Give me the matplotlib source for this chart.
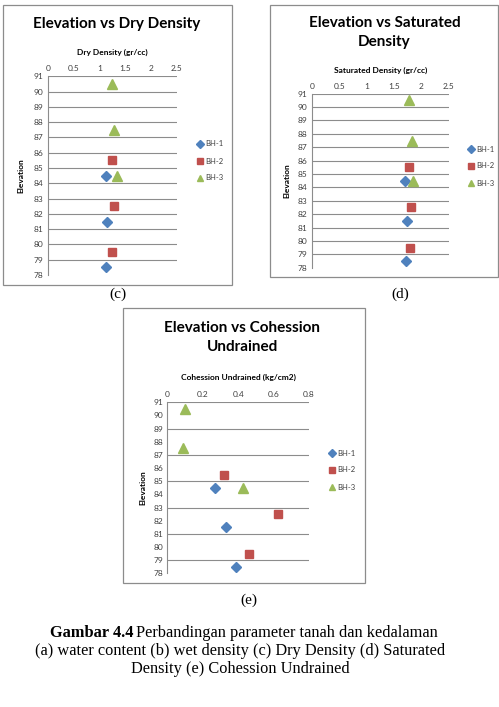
import matplotlib.pyplot as plt
from matplotlib.patches import Rectangle

W, H = 499, 707

# elevations where each borehole was sampled
elev_bh1 = [84.5, 81.5, 78.5]
elev_bh2 = [85.5, 82.5, 79.5]
elev_bh3 = [90.5, 87.5, 84.5]

# dry density (gr/cc)
dry_bh1 = [1.13, 1.14, 1.13]
dry_bh2 = [1.24, 1.29, 1.24]
dry_bh3 = [1.24, 1.28, 1.34]

# saturated density (gr/cc)
sat_bh1 = [1.70, 1.73, 1.71]
sat_bh2 = [1.78, 1.81, 1.79]
sat_bh3 = [1.78, 1.83, 1.84]

# cohesion undrained (kg/cm2)
cu_bh1 = [0.27, 0.33, 0.39]
cu_bh2 = [0.32, 0.625, 0.46]
cu_bh3 = [0.10, 0.09, 0.43]

series_names = ["BH-1", "BH-2", "BH-3"]
colores = ["#4F81BD", "#C0504D", "#9BBB59"]
marcadores = ["D", "s", "^"]
tamanos = [5, 6, 6.5]

font = "Lato"
fig = plt.figure(figsize=(W / 100, H / 100), dpi=100)


def px_axes(x0, y0, x1, y1):
    return fig.add_axes([x0 / W, 1 - y1 / H, (x1 - x0) / W, (y1 - y0) / H])


def marco(x0, y0, x1, y1):
    fig.patches.append(Rectangle((x0 / W, 1 - y1 / H), (x1 - x0) / W, (y1 - y0) / H,
                                 transform=fig.transFigure, fill=False,
                                 edgecolor="#8c8c8c", linewidth=0.9))


def texto(x, y, s, **kw):
    kw.setdefault("ha", "center")
    fig.text(x / W, 1 - y / H, s, va="center", **kw)


def grafico(caja, xmax, xstep, xticklabels, grid_step, datos, titulo, ty, xlabel, xl_y,
            ylab_x, leg_x, leg_y):
    ax = px_axes(*caja)
    for (ex, vals), c, m, ms, nombre in zip(datos, colores, marcadores, tamanos, series_names):
        ax.plot(vals, ex, linestyle="none", marker=m, color=c, markersize=ms, label=nombre)
    ax.set_xlim(0, xmax)
    ax.set_ylim(78, 91)
    ax.set_xticks([i * xstep for i in range(len(xticklabels))])
    ax.set_xticklabels(xticklabels, fontsize=6, family=font, color="#404040")
    ax.xaxis.tick_top()
    ax.set_yticks(range(78, 92))
    ax.set_yticklabels([str(v) for v in range(78, 92)], fontsize=6, family=font, color="#404040")
    ax.tick_params(length=0, pad=3)
    for y in range(79, 92, grid_step):
        ax.axhline(y, color="#8c8c8c", linewidth=0.8, zorder=0)
    for s in ["top", "right", "bottom"]:
        ax.spines[s].set_visible(False)
    ax.spines["left"].set_color("#8c8c8c")
    ax.set_facecolor("none")
    cx = (caja[0] + caja[2]) / 2
    for i, linea in enumerate(titulo):
        texto(cx + 4, ty + i * 19, linea, fontsize=11, fontweight="bold", family=font)
    texto(cx, xl_y, xlabel, fontsize=6, fontweight="bold", family=font)
    texto(ylab_x, (caja[1] + caja[3]) / 2, "Elevation", fontsize=6, fontweight="bold",
          family=font, rotation=90)
    for i, (nombre, c, m) in enumerate(zip(series_names, colores, marcadores)):
        yy = leg_y + i * 17
        fig.lines.append(plt.Line2D([leg_x / W], [1 - yy / H], marker=m, color=c,
                                    markersize=4, transform=fig.transFigure))
        fig.text((leg_x + 5) / W, 1 - yy / H, nombre, fontsize=5.5, family=font,
                 va="center", color="#404040")
    return ax


# (c) dry density
marco(3, 5, 232, 285)
grafico((47.7, 76.3, 176.7, 275), 2.5, 0.5, ["0", "0.5", "1", "1.5", "2", "2.5"], 1,
        [(elev_bh1, dry_bh1), (elev_bh2, dry_bh2), (elev_bh3, dry_bh3)],
        ["Elevation vs Dry Density"], 24, "Dry Density (gr/cc)", 52, 21, 200, 144)

# (d) saturated density
marco(270, 5, 498, 277)
grafico((311.7, 93.7, 449, 267.7), 2.5, 0.5, ["0", "0.5", "1", "1.5", "2", "2.5"], 1,
        [(elev_bh1, sat_bh1), (elev_bh2, sat_bh2), (elev_bh3, sat_bh3)],
        ["Elevation vs Saturated", "Density"], 23, "Saturated Density (gr/cc)", 70,
        287, 471, 149)

# (e) cohesion undrained
marco(123, 308, 365, 583)
grafico((167.3, 402.3, 309, 573.3), 0.8, 0.2, ["0", "0.2", "0.4", "0.6", "0.8"], 2,
        [(elev_bh1, cu_bh1), (elev_bh2, cu_bh2), (elev_bh3, cu_bh3)],
        ["Elevation vs Cohession", "Undrained"], 328, "Cohession Undrained (kg/cm2)", 377.5,
        143, 332, 453)

serif = "Liberation Serif"
texto(118, 294, "(c)", fontsize=11, family=serif)
texto(400, 294, "(d)", fontsize=11, family=serif)
texto(249, 600, "(e)", fontsize=11, family=serif)

texto(133, 633, "Gambar 4.4", ha="right", fontsize=11.8, fontweight="bold", family=serif)
texto(136, 633, "Perbandingan parameter tanah dan kedalaman", ha="left", fontsize=11.8,
      family=serif)
texto(240, 651, "(a) water content (b) wet density (c) Dry Density (d) Saturated",
      fontsize=11.8, family=serif)
texto(240, 669, "Density (e) Cohession Undrained", fontsize=11.8, family=serif)

fig.savefig("out.png", dpi=100)
